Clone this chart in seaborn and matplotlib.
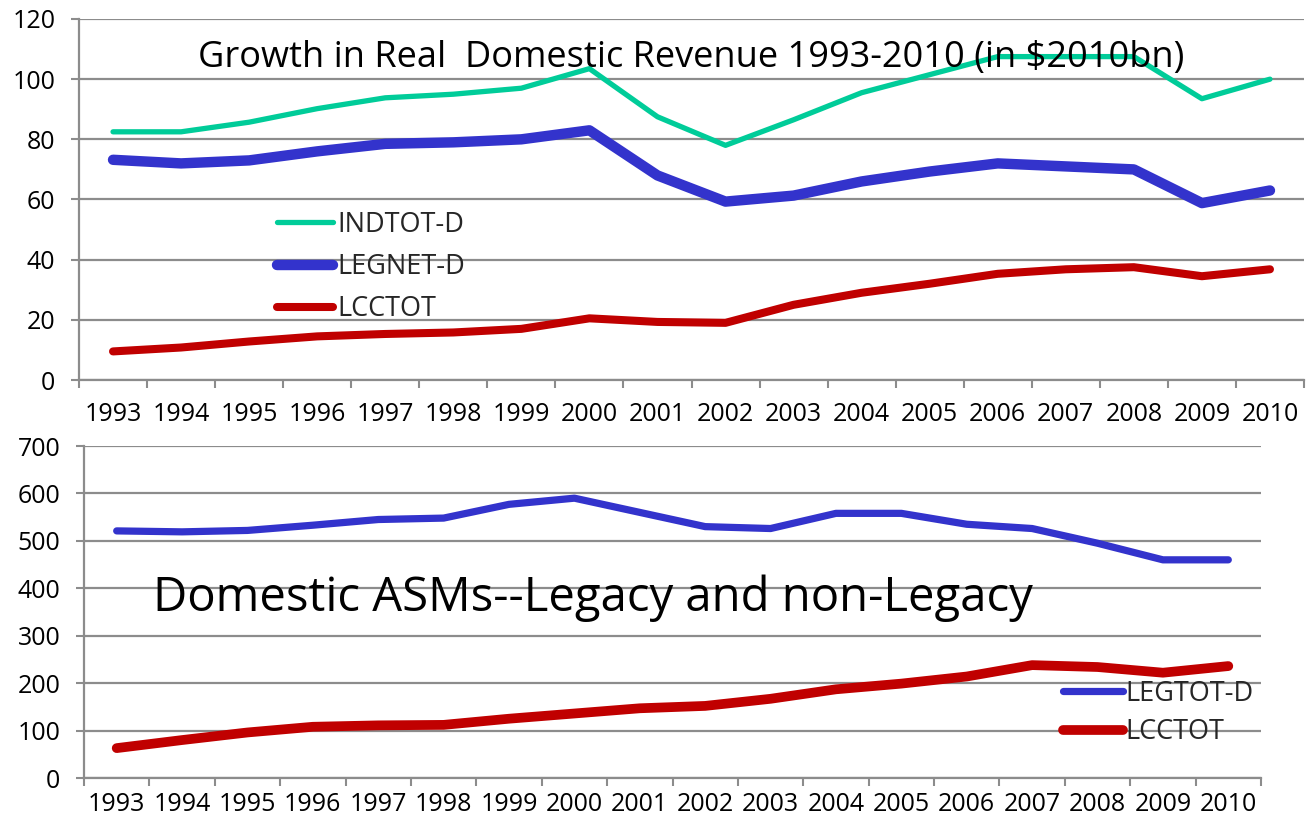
import numpy as np
import pandas as pd
import matplotlib
matplotlib.use("Agg")
import matplotlib.pyplot as plt
import seaborn as sns

years = [str(y) for y in range(1993, 2011)]

# Top panel: real domestic revenue ($2010bn)
indtot_d = [82.5, 82.5, 85.7, 90.2, 93.8, 95.0, 97.0, 103.5, 87.5, 78.0,
            86.5, 95.5, 101.5, 107.5, 107.5, 107.5, 93.5, 100.0]
legnet_d = [73.2, 72.0, 73.0, 76.0, 78.5, 79.0, 80.0, 83.0, 68.0, 59.3,
            61.3, 66.0, 69.3, 72.0, 71.0, 70.0, 58.8, 63.0]
lcctot_rev = [9.5, 10.8, 12.8, 14.5, 15.3, 15.8, 17.0, 20.5, 19.3, 19.0,
              25.0, 29.0, 32.0, 35.3, 36.8, 37.5, 34.5, 36.8]

# Bottom panel: domestic ASMs
legtot_d = [521, 519, 522, 533, 545, 548, 577, 590, 560, 530,
            526, 558, 558, 535, 526, 495, 460, 460]
lcctot_asm = [63, 80, 96, 108, 111, 112, 125, 136, 147, 152,
              167, 187, 199, 214, 238, 234, 222, 236]

top_title = "Growth in Real  Domestic Revenue 1993-2010 (in $2010bn)"
bottom_title = "Domestic ASMs--Legacy and non-Legacy"

TEAL = "#00CC99"
BLUE = "#3333CC"
RED = "#C00000"
GRID = "#8C8C8C"

sns.set_theme(style="white")
plt.rcParams["font.family"] = ["Open Sans", "DejaVu Sans"]

fig = plt.figure(figsize=(13.07, 8.21), dpi=100)
ax1 = fig.add_axes([79 / 1307, 1 - 380 / 821, (1304 - 79) / 1307, (380 - 19) / 821])
ax2 = fig.add_axes([84 / 1307, 1 - 778 / 821, (1261 - 84) / 1307, (778 - 446) / 821])

df_top = pd.DataFrame({"year": years, "INDTOT-D": indtot_d,
                       "LEGNET-D": legnet_d, "LCCTOT": lcctot_rev})
df_bot = pd.DataFrame({"year": years, "LEGTOT-D": legtot_d, "LCCTOT": lcctot_asm})

kw = dict(solid_capstyle="round", solid_joinstyle="round")
sns.lineplot(data=df_top, x="year", y="INDTOT-D", ax=ax1, color=TEAL, lw=3.8, label="INDTOT-D", sort=False, **kw)
sns.lineplot(data=df_top, x="year", y="LEGNET-D", ax=ax1, color=BLUE, lw=7.5, label="LEGNET-D", sort=False, **kw)
sns.lineplot(data=df_top, x="year", y="LCCTOT", ax=ax1, color=RED, lw=5.8, label="LCCTOT", sort=False, **kw)

sns.lineplot(data=df_bot, x="year", y="LEGTOT-D", ax=ax2, color=BLUE, lw=5.2, label="LEGTOT-D", sort=False, **kw)
sns.lineplot(data=df_bot, x="year", y="LCCTOT", ax=ax2, color=RED, lw=7.0, label="LCCTOT", sort=False, **kw)


def style(ax, ymax, step, xpad):
    n = len(years)
    ax.set_xlim(-0.5, n - 0.5)
    ax.set_ylim(0, ymax)
    ax.set_yticks(np.arange(0, ymax + 1, step))
    ax.set_xticks(np.arange(-0.5, n, 1.0))
    ax.set_xticklabels([])
    ax.set_xticks(np.arange(n), minor=True)
    ax.set_xticklabels(years, minor=True)
    ax.tick_params(axis="x", which="major", length=6, width=1.5, color=GRID, direction="out", bottom=True)
    ax.tick_params(axis="x", which="minor", length=0, labelsize=18, pad=xpad)
    ax.tick_params(axis="y", which="major", length=6, width=1.5, color=GRID, labelsize=18, pad=11, left=True, direction="out")
    ax.yaxis.grid(True, color=GRID, lw=1.6)
    ax.xaxis.grid(False)
    ax.set_axisbelow(True)
    for s in ["top", "right"]:
        ax.spines[s].set_visible(False)
    for s in ["left", "bottom"]:
        ax.spines[s].set_color(GRID)
        ax.spines[s].set_linewidth(1.6)
    ax.set_xlabel("")
    ax.set_ylabel("")
    for lab in ax.get_xticklabels(minor=True) + ax.get_yticklabels():
        lab.set_color("black")


style(ax1, 120, 20, 16)
style(ax2, 700, 100, 10)

ax1.text((198 - 79) / 1225, (380 - 67) / 361, top_title, transform=ax1.transAxes,
         ha="left", va="baseline", fontsize=26, color="black")
ax2.text((153 - 84) / 1177, (778 - 611) / 332, bottom_title, transform=ax2.transAxes,
         ha="left", va="baseline", fontsize=34, color="black")

ax1.legend(loc="center left", bbox_to_anchor=((277 - 79) / 1225, (380 - 267) / 361),
           frameon=False, fontsize=19.5, borderpad=0, borderaxespad=0,
           handlelength=2.07, handletextpad=0.15, labelspacing=0.52)
ax2.legend(loc="center left", bbox_to_anchor=((1063 - 84) / 1177, (778 - 713) / 332),
           frameon=False, fontsize=19.5, borderpad=0, borderaxespad=0,
           handlelength=2.2, handletextpad=0.1, labelspacing=0.4)

fig.savefig("out.png", dpi=100)
